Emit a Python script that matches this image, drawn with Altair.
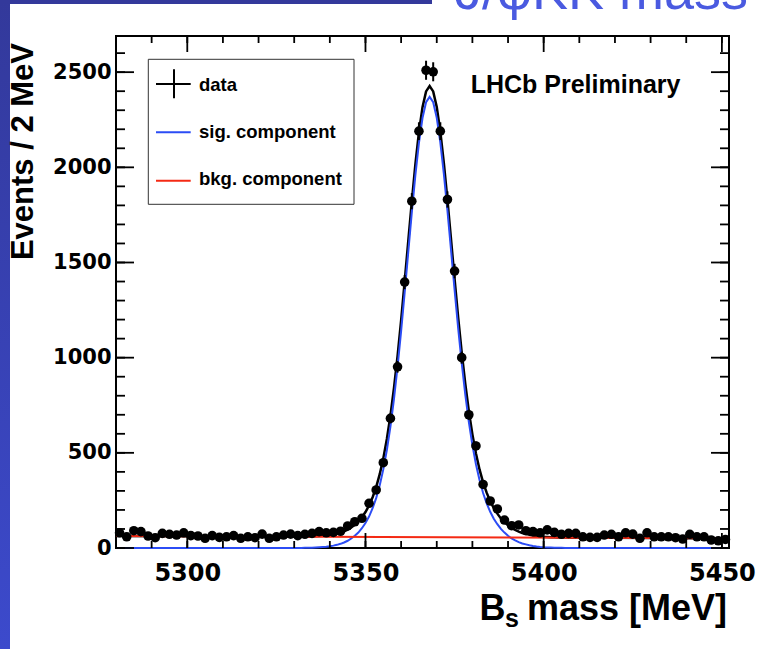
import altair as alt
import pandas as pd

# ---------------- data ----------------
bin_centers = list(range(5281, 5452, 2))
counts = [80, 59, 91, 86, 63, 54, 77, 72, 68, 80,
          65, 63, 51, 65, 56, 59, 65, 51, 59, 54,
          73, 51, 59, 68, 73, 65, 72, 77, 86, 80,
          82, 88, 116, 138, 156, 235, 305, 448, 681, 952,
          1397, 1822, 2190, 2510, 2502, 2190, 1831, 1455, 1000, 700,
          536, 334, 247, 205, 147, 117, 121, 91, 86, 80,
          95, 82, 72, 77, 77, 59, 56, 56, 68, 72,
          59, 80, 73, 51, 80, 59, 59, 59, 54, 47,
          72, 59, 59, 42, 38, 45]

curve_mass = [5280, 5300, 5320] + list(range(5328, 5409)) + [5420, 5440, 5452]
sig_curve = [0, 0, 0] + [
    0.1, 0.1, 0.2, 0.3, 0.5, 0.8, 1.2, 1.7, 2.4, 3.4,
    4.8, 6.6, 9.1, 12.4, 16.6, 22, 29, 38, 50, 64,
    81, 104, 131, 165, 209, 262, 330, 413, 515, 638,
    783, 951, 1139, 1343, 1554, 1763, 1959, 2128, 2259, 2342,
    2370,
    2342, 2260, 2131, 1964, 1772, 1566, 1357, 1157, 972, 807,
    663, 541, 440, 357, 289, 235, 190, 154, 125, 100,
    81, 64, 50, 40, 31, 24, 19, 14, 10.6, 7.9,
    5.8, 4.2, 3.1, 2.2, 1.6, 1.1, 0.7, 0.5, 0.3, 0.2] + [0, 0, 0]
total_curve = [63.0, 61.6, 60.2] + [
    59.6, 59.7, 59.7, 59.7, 59.9, 60.1, 60.4, 60.9, 61.5, 62.4,
    63.8, 65.5, 67.9, 71.1, 75.3, 80.6, 87.5, 96.5, 108.4, 122.3,
    139.3, 162.2, 189.1, 223, 267, 319.9, 387.8, 470.8, 572.7, 695.6,
    840.6, 1008.5, 1196.4, 1400.3, 1611.3, 1820.2, 2016.1, 2185.1, 2316, 2398.9,
    2426.9,
    2398.8, 2316.7, 2187.7, 2020.6, 1828.5, 1622.4, 1413.4, 1213.3, 1028.2, 863.2,
    719.1, 597, 496, 412.9, 344.8, 290.7, 245.7, 209.6, 180.5, 155.5,
    136.4, 119.3, 105.3, 95.2, 86.1, 79, 74, 68.9, 65.4, 62.7,
    60.5, 58.8, 57.7, 56.7, 56, 55.5, 55, 54.7, 54.4, 54.3] + [53.2, 51.8, 51.0]
bkg_mass = [5280, 5452]
bkg_curve = [63.0, 51.0]

x_ticks = list(range(5280, 5451, 10))
x_major = [5300, 5350, 5400, 5450]
y_ticks = list(range(0, 2601, 100))
y_major = [0, 500, 1000, 1500, 2000, 2500]

legend_labels = ["data", "sig. component", "bkg. component"]

# ---------------- chart ----------------
W, H = 613, 512
xs = alt.Scale(domain=[5280, 5452], nice=False, zero=False)
ys = alt.Scale(domain=[0, 2690], nice=False, zero=False)
xaxis = alt.Axis(values=x_major, format="d", ticks=False, domain=False, grid=False, title=None,
                 labelFont="DejaVu Sans", labelFontWeight="bold", labelFontSize=24,
                 labelColor="black", labelPadding=13, labelFlush=False, labelOverlap=False)
yaxis = alt.Axis(values=y_major, format="d", ticks=False, domain=False, grid=False, title=None,
                 labelFont="DejaVu Sans", labelFontWeight="bold", labelFontSize=21,
                 labelColor="black", labelPadding=5, labelFlush=False, labelOverlap=False)


def X(f):
    return alt.X(f, type="quantitative", scale=xs, axis=xaxis)


def Y(f):
    return alt.Y(f, type="quantitative", scale=ys, axis=yaxis)


one = alt.Data(values=[{"k": 0}])
BLUE = "#2b4cf5"
RED = "#f42a14"
FONT = "Liberation Sans"

pts = pd.DataFrame({"m": bin_centers, "n": counts})
curves = pd.DataFrame({"m": curve_mass, "sig": sig_curve, "tot": total_curve})
bkg = pd.DataFrame({"m": bkg_mass, "b": bkg_curve})

grad = alt.Gradient(gradient="linear",
                    stops=[alt.GradientStop(color="#33399b", offset=0),
                           alt.GradientStop(color="#3c4acc", offset=1)],
                    x1=0, x2=0, y1=0, y2=1)

layers = []
# slide decoration
layers.append(alt.Chart(one).mark_rect(fill=grad).encode(
    x=alt.value(-116), x2=alt.value(-106), y=alt.value(-36), y2=alt.value(613)))
layers.append(alt.Chart(one).mark_rect(color="#33399b").encode(
    x=alt.value(-116), x2=alt.value(316), y=alt.value(-36), y2=alt.value(-32)))
layers.append(alt.Chart(one).mark_text(text="J/φKK mass", font=FONT, fontSize=54,
                                        color="#4a5ae0", align="left", baseline="alphabetic").encode(
    x=alt.value(339), y=alt.value(-27.5)))

# curves
layers.append(alt.Chart(curves).mark_line(color="black", strokeWidth=2.5).encode(
    x=X("m"), y=Y("tot")))
layers.append(alt.Chart(curves).mark_line(color=BLUE, strokeWidth=2).encode(
    x=X("m"), y=Y("sig")))
layers.append(alt.Chart(bkg).mark_line(color=RED, strokeWidth=2).encode(
    x=X("m"), y=Y("b")))

# data points with Poisson errors
layers.append(alt.Chart(pts).transform_calculate(
    lo="datum.n - sqrt(datum.n)", hi="datum.n + sqrt(datum.n)").mark_rule(
    color="black", strokeWidth=2).encode(x=X("m"), y=Y("lo"), y2="hi:Q"))
layers.append(alt.Chart(pts).mark_circle(color="black", size=92, opacity=1).encode(
    x=X("m"), y=Y("n")))

# ticks (ROOT style, inside the frame, on all four sides)
xt = pd.DataFrame({"t": x_ticks})
xm = pd.DataFrame({"t": x_major})
yt = pd.DataFrame({"v": y_ticks})
ym = pd.DataFrame({"v": y_major})
tk = dict(color="black", strokeWidth=1.8)
layers.append(alt.Chart(xt).mark_rule(**tk).encode(x=X("t"), y=alt.value(H), y2=alt.value(H - 7)))
layers.append(alt.Chart(xm).mark_rule(**tk).encode(x=X("t"), y=alt.value(H), y2=alt.value(H - 15)))
layers.append(alt.Chart(xt).mark_rule(**tk).encode(x=X("t"), y=alt.value(0), y2=alt.value(7)))
layers.append(alt.Chart(xm).mark_rule(**tk).encode(x=X("t"), y=alt.value(0), y2=alt.value(16)))
layers.append(alt.Chart(yt).mark_rule(**tk).encode(y=Y("v"), x=alt.value(0), x2=alt.value(9)))
layers.append(alt.Chart(ym).mark_rule(**tk).encode(y=Y("v"), x=alt.value(0), x2=alt.value(18)))
layers.append(alt.Chart(yt).mark_rule(**tk).encode(y=Y("v"), x=alt.value(W), x2=alt.value(W - 9)))
layers.append(alt.Chart(ym).mark_rule(**tk).encode(y=Y("v"), x=alt.value(W), x2=alt.value(W - 18)))

# legend box
layers.append(alt.Chart(one).mark_rect(fill="white", stroke="#333333", strokeWidth=1).encode(
    x=alt.value(32.3), x2=alt.value(238), y=alt.value(23.3), y2=alt.value(168.3)))
layers.append(alt.Chart(one).mark_rule(color="black", strokeWidth=2).encode(
    x=alt.value(40), x2=alt.value(74.7), y=alt.value(48)))
layers.append(alt.Chart(one).mark_rule(color="black", strokeWidth=2).encode(
    x=alt.value(58), y=alt.value(33.3), y2=alt.value(62.3)))
layers.append(alt.Chart(one).mark_rule(color=BLUE, strokeWidth=2).encode(
    x=alt.value(40), x2=alt.value(74.7), y=alt.value(96.3)))
layers.append(alt.Chart(one).mark_rule(color=RED, strokeWidth=2).encode(
    x=alt.value(40), x2=alt.value(74.7), y=alt.value(144.7)))
for lab, yy in zip(legend_labels, [49, 95.7, 143.3]):
    layers.append(alt.Chart(one).mark_text(text=lab, font=FONT, fontWeight="bold", fontSize=18.5,
                                            color="black", align="left", baseline="middle").encode(
        x=alt.value(83), y=alt.value(yy)))

# LHCb label
layers.append(alt.Chart(one).mark_text(text="LHCb Preliminary", font=FONT, fontWeight="bold",
                                        fontSize=25, color="black", align="left",
                                        baseline="alphabetic").encode(
    x=alt.value(354.7), y=alt.value(57.3)))

# axis titles
layers.append(alt.Chart(one).mark_text(text="Events / 2 MeV", font=FONT, fontWeight="bold",
                                        fontSize=31, color="black", align="right",
                                        baseline="alphabetic", angle=270).encode(
    x=alt.value(-83), y=alt.value(7)))
layers.append(alt.Chart(one).mark_text(text="B", font=FONT, fontWeight="bold", fontSize=36,
                                        color="black", align="left", baseline="alphabetic").encode(
    x=alt.value(363.5), y=alt.value(584)))
layers.append(alt.Chart(one).mark_text(text="s", font=FONT, fontWeight="bold", fontSize=25,
                                        color="black", align="left", baseline="alphabetic").encode(
    x=alt.value(389), y=alt.value(591)))
layers.append(alt.Chart(one).mark_text(text="mass [MeV]", font=FONT, fontWeight="bold", fontSize=36,
                                        color="black", align="right", baseline="alphabetic").encode(
    x=alt.value(611), y=alt.value(584)))

chart = alt.layer(*layers).properties(
    width=W, height=H,
    autosize=alt.AutoSizeParams(type="none"),
    padding={"left": 116, "top": 36, "right": 29, "bottom": 101},
).configure_view(stroke="black", strokeWidth=2)

chart.save("out.html", embed_options={"renderer": "svg", "actions": False})
